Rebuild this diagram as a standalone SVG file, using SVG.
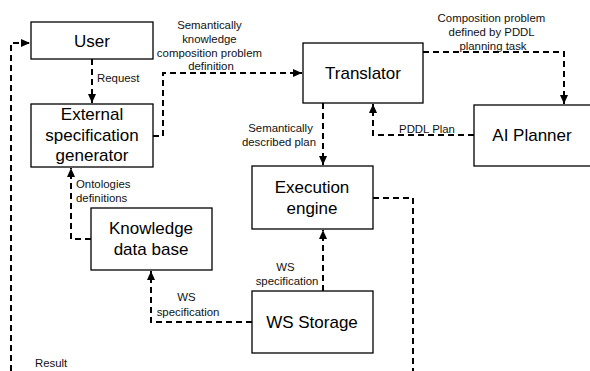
<svg xmlns="http://www.w3.org/2000/svg" width="590" height="371" viewBox="0 0 590 371">
  <style>
    .box { fill: #ffffff; stroke: #000000; stroke-width: 1.3; }
    .node { font-family: "Liberation Sans", Arial, sans-serif; font-size: 17px; fill: #000000; text-anchor: middle; }
    .lbl { font-family: "Liberation Sans", Arial, sans-serif; font-size: 11.4px; fill: #111111; }
    .flow { fill: none; stroke: #000000; stroke-width: 2; stroke-dasharray: 6 4; }
  </style>
  <defs>
    <marker id="arrow" markerUnits="userSpaceOnUse" markerWidth="10" markerHeight="10" viewBox="0 0 10 10" refX="9" refY="5" orient="auto">
      <path d="M0,1 L9,5 L0,9 Z" fill="#000000"/>
    </marker>
  </defs>
  <rect width="590" height="371" fill="#ffffff"/>

  <g id="connectors">
    <!-- User -> External specification generator -->
    <path class="flow" d="M92,59 V103" marker-end="url(#arrow)"/>
    <!-- Generator -> Translator -->
    <path class="flow" d="M153,136 H163 V73 H302" marker-end="url(#arrow)"/>
    <!-- Translator -> AI Planner -->
    <path class="flow" d="M423,52 H564 V104" marker-end="url(#arrow)"/>
    <!-- AI Planner -> Translator (PDDL Plan) -->
    <path class="flow" d="M474,135 H373 V104" marker-end="url(#arrow)"/>
    <!-- Translator -> Execution engine -->
    <path class="flow" d="M323,103 V165" marker-end="url(#arrow)"/>
    <!-- WS Storage -> Execution engine -->
    <path class="flow" d="M323,291 V230" marker-end="url(#arrow)"/>
    <!-- WS Storage -> Knowledge data base -->
    <path class="flow" d="M252,322 H151 V271" marker-end="url(#arrow)"/>
    <!-- Knowledge data base -> Generator -->
    <path class="flow" d="M91,239 H71 V168" marker-end="url(#arrow)"/>
    <!-- Execution engine -> Result -->
    <path class="flow" d="M373,198 H413 V371"/>
    <!-- Result -> User -->
    <path class="flow" d="M11,371 V43 H30" marker-end="url(#arrow)"/>
  </g>

  <g id="labels">
    <text class="lbl" x="97" y="82">Request</text>
    <text class="lbl" text-anchor="middle">
      <tspan x="211" y="29">Semantically</tspan>
      <tspan x="211" y="43">knowledge</tspan>
      <tspan x="211" y="57">composition problem</tspan>
      <tspan x="211" y="70">definition</tspan>
    </text>
    <text class="lbl" text-anchor="middle">
      <tspan x="493" y="22">Composition problem</tspan>
      <tspan x="493" y="36">defined by PDDL</tspan>
      <tspan x="493" y="50">planning task</tspan>
    </text>
    <text class="lbl" x="427" y="133" text-anchor="middle">PDDL Plan</text>
    <text class="lbl" text-anchor="end">
      <tspan x="316" y="132">Semantically</tspan>
      <tspan x="316" y="146">described plan</tspan>
    </text>
    <text class="lbl" text-anchor="middle">
      <tspan x="287" y="271">WS</tspan>
      <tspan x="287" y="285">specification</tspan>
    </text>
    <text class="lbl" text-anchor="middle">
      <tspan x="188" y="301">WS</tspan>
      <tspan x="188" y="316">specification</tspan>
    </text>
    <text class="lbl">
      <tspan x="76" y="188">Ontologies</tspan>
      <tspan x="76" y="202">definitions</tspan>
    </text>
    <text class="lbl" x="35" y="367">Result</text>
  </g>

  <g id="user">
    <rect class="box" x="31" y="22" width="122" height="37"/>
    <text class="node" x="92" y="47">User</text>
  </g>
  <g id="generator">
    <rect class="box" x="31" y="104" width="122" height="63"/>
    <text class="node" x="92" y="120">External</text>
    <text class="node" x="92" y="141">specification</text>
    <text class="node" x="92" y="161">generator</text>
  </g>
  <g id="translator">
    <rect class="box" x="303" y="43" width="120" height="60"/>
    <text class="node" x="363" y="79">Translator</text>
  </g>
  <g id="ai-planner">
    <rect class="box" x="474" y="105" width="130" height="61"/>
    <text class="node" x="532" y="141">AI Planner</text>
  </g>
  <g id="execution-engine">
    <rect class="box" x="252" y="166" width="121" height="63"/>
    <text class="node" x="312" y="193">Execution</text>
    <text class="node" x="312" y="214">engine</text>
  </g>
  <g id="knowledge-base">
    <rect class="box" x="91" y="208" width="121" height="62"/>
    <text class="node" x="151" y="234">Knowledge</text>
    <text class="node" x="151" y="255">data base</text>
  </g>
  <g id="ws-storage">
    <rect class="box" x="252" y="291" width="121" height="62"/>
    <text class="node" x="312" y="328">WS Storage</text>
  </g>
</svg>
